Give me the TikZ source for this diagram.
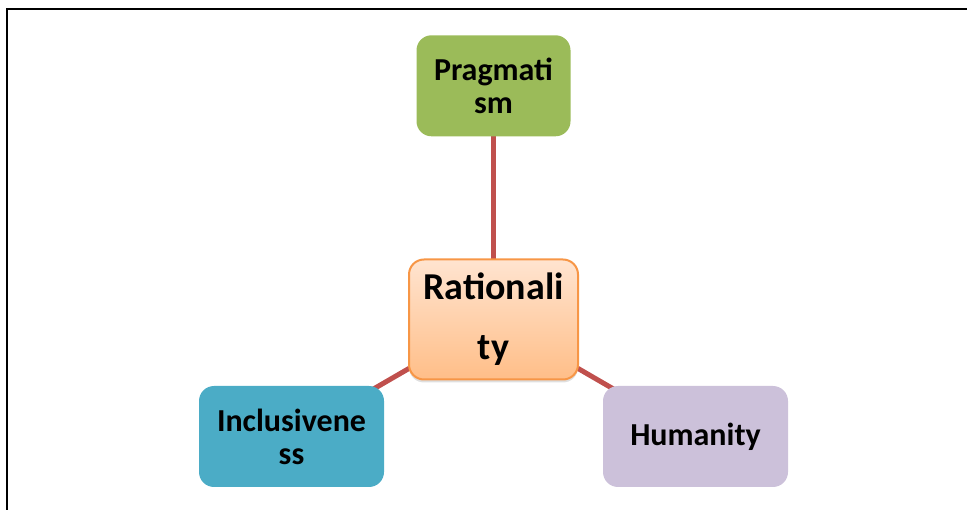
\documentclass[tikz,border=0pt]{standalone}
\usepackage{fontspec}
\setmainfont{Carlito}
\usepackage{xcolor}
\usetikzlibrary{positioning,backgrounds,shadows}
\definecolor{VALgreen}{RGB}{155,187,89}
\definecolor{VALteal}{RGB}{75,172,198}
\definecolor{VALlilac}{RGB}{204,193,218}
\definecolor{VALorange}{RGB}{247,150,70}
\definecolor{VALtop}{RGB}{255,228,208}
\definecolor{VALbot}{RGB}{255,190,136}
\definecolor{VALred}{RGB}{192,80,77}
\tikzstyle{vbox}  = [rectangle, rounded corners=15pt, draw=none,
                     align=center, inner sep=0pt,
                     font=\bfseries\fontsize{32}{33}\selectfont]
\tikzstyle{Bprag} = [vbox, fill=VALgreen, minimum width=154pt, minimum height=101pt]
\tikzstyle{Bincl} = [vbox, fill=VALteal,  minimum width=185pt, minimum height=101pt]
\tikzstyle{Bhum}  = [vbox, fill=VALlilac, minimum width=185pt, minimum height=101pt]
\tikzstyle{Brat}  = [vbox, draw=VALorange, line width=2pt,
                     top color=VALtop, bottom color=VALbot,
                     drop shadow={shadow xshift=0pt, shadow yshift=-3pt, opacity=0.25},
                     minimum width=169pt, minimum height=120pt,
                     font=\bfseries\fontsize{38}{60}\selectfont]
\tikzstyle{link}  = [draw=VALred, line width=5pt]

\begin{document}
\begin{tikzpicture}[x=1pt, y=-1pt]
  \useasboundingbox (0,0) rectangle (967,510);
  \draw[line width=2.5pt] (7,510) -- (7,9) -- (967,9);

  \node[Brat]  (rat)  at (493.5,319.5) {Rationali\\ty};
  \node[Bprag, above=122pt of rat] (prag) {Pragmati\\sm};
  \node[Bincl] (incl) at (291.5,436.5) {Inclusivene\\ss};
  \node[Bhum]  (hum)  at (695.5,436.5) {Humanity};

  \begin{scope}[on background layer]
    \draw[link] (rat.center) -- (prag.center);
    \draw[link] (rat.center) -- (incl.center);
    \draw[link] (rat.center) -- (hum.center);
  \end{scope}
\end{tikzpicture}
\end{document}
